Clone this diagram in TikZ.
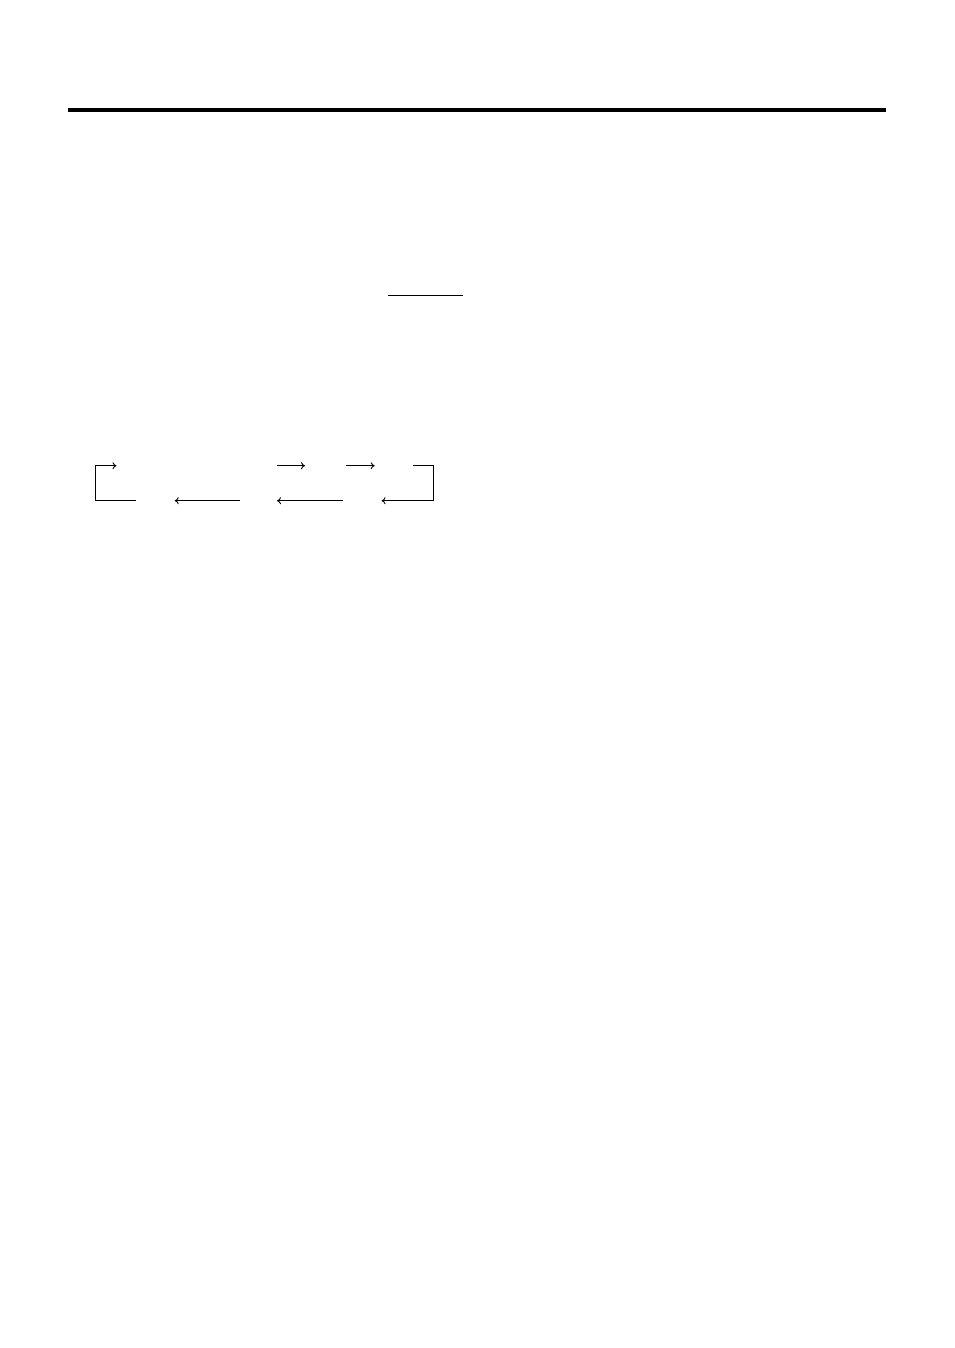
\documentclass[tikz,border=0pt]{standalone}
\usetikzlibrary{arrows.meta}
\begin{document}
\begin{tikzpicture}[x=1pt,y=-1pt,
  conn/.style={line width=0.9pt,-{To[length=4pt,width=7pt]}},
  plain/.style={line width=0.9pt},
  rule/.style={line width=4pt}]
\useasboundingbox (0,0) rectangle (954,1348);
% top rule
\coordinate (r1) at (68,109.7);
\coordinate (r2) at (886,109.7);
\draw[rule] (r1) -- (r2);
% underline
\coordinate (u1) at (388.3,295.3);
\coordinate (u2) at (462.7,295.3);
\draw[plain] (u1) -- (u2);
% cycle
\coordinate (lb) at (135.7,500.7);
\coordinate (lc) at (95.3,500.7);
\coordinate (lt) at (95.3,465.7);
\coordinate (la) at (116.5,465.7);
\draw[conn] (lb) -- (lc) -- (lt) -- (la);
\coordinate (t1s) at (276.7,465.7);
\coordinate (t1e) at (305,465.7);
\draw[conn] (t1s) -- (t1e);
\coordinate (t2s) at (346,465.7);
\coordinate (t2e) at (374.7,465.7);
\draw[conn] (t2s) -- (t2e);
\coordinate (rt) at (413.3,465.7);
\coordinate (rc1) at (433.3,465.7);
\coordinate (rc2) at (433.3,500.7);
\coordinate (ra) at (381.5,500.7);
\draw[conn] (rt) -- (rc1) -- (rc2) -- (ra);
\coordinate (b1s) at (343.3,500.7);
\coordinate (b1e) at (277,500.7);
\draw[conn] (b1s) -- (b1e);
\coordinate (b2s) at (240,500.7);
\coordinate (b2e) at (174.7,500.7);
\draw[conn] (b2s) -- (b2e);
\end{tikzpicture}
\end{document}
